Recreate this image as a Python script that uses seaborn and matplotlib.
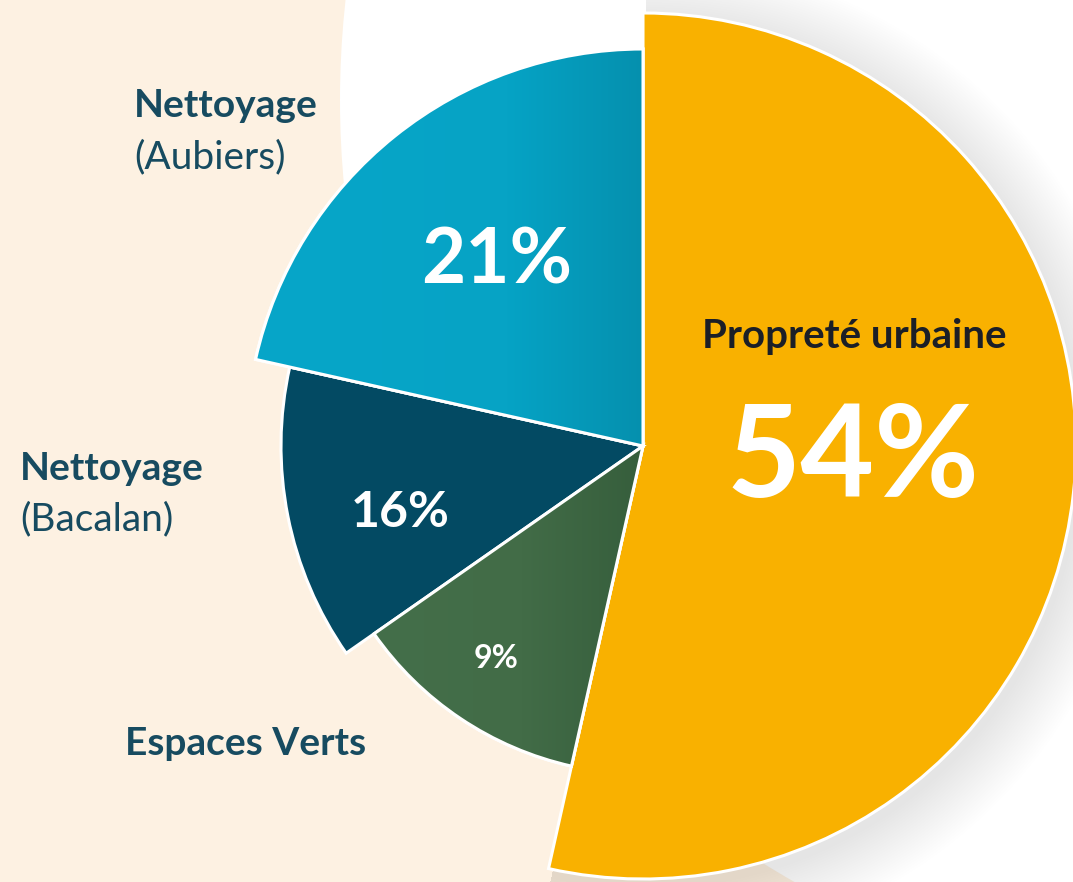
import numpy as np
import matplotlib
matplotlib.use("Agg")
import matplotlib.pyplot as plt
from matplotlib.colors import LinearSegmentedColormap
from matplotlib.patches import Circle
import seaborn as sns

# ---- data ----
categories = ["Propreté urbaine", "Espaces Verts", "Nettoyage (Bacalan)", "Nettoyage (Aubiers)"]
pct_labels = ["54%", "9%", "16%", "21%"]          # printed labels
drawn_shares = [53.5, 11.8, 13.2, 21.5]           # angular shares as drawn

# ---- style ----
radii = [433, 328, 362, 397]
colors = ["#F9B100", "#436C48", "#034A63", "#07A5C8"]
grad_colors = [None,
               [(0, "#446F4A"), (0.55, "#426C47"), (1, "#365E3C")],
               None,
               [(0, "#07A6C9"), (0.65, "#06A3C5"), (1, "#0590AE")]]
label_color = "#174B60"
bg_color = "#FDF1E2"

sns.set_theme(style="white")
plt.rcParams["font.family"] = ["Lato", "DejaVu Sans"]

W, H = 1073, 882
cx, cy = 643, 446
n = len(drawn_shares)
fig = plt.figure(figsize=(W / 100, H / 100), dpi=100, facecolor=bg_color)
ax = fig.add_axes([0, 0, 1, 1])
ax.set_facecolor(bg_color)

# white background disc behind the chart
ax.add_patch(Circle((1240 - cx, cy - 100), 900, facecolor="white", edgecolor="none", zorder=0))

# soft shadow of the main slice
for k in range(26):
    rad = radii[0] + 2 + k * 2.4
    w, _ = ax.pie(drawn_shares, radius=rad, startangle=90, counterclock=False,
                  colors=["#000000"] * n, center=(3, -8),
                  wedgeprops=dict(linewidth=0, alpha=0.0055), frame=True)
    for j, p in enumerate(w):
        p.set_visible(j == 0)
        p.set_zorder(1)

# slices, each drawn with its own radius
for i in range(n):
    wedges, _ = ax.pie(drawn_shares, radius=radii[i], startangle=90, counterclock=False,
                       colors=colors, frame=True,
                       wedgeprops=dict(edgecolor="white", linewidth=2.2))
    for j, wdg in enumerate(wedges):
        wdg.set_visible(j == i)
        wdg.set_zorder(3)
    if grad_colors[i] is not None:
        wdg = wedges[i]
        cmap = LinearSegmentedColormap.from_list("g", grad_colors[i])
        tr_verts = wdg.get_patch_transform().transform(wdg.get_path().vertices)
        x0, x1 = tr_verts[:, 0].min(), tr_verts[:, 0].max()
        grad = np.linspace(0, 1, 256).reshape(1, -1)
        im = ax.imshow(grad, cmap=cmap, aspect="auto", zorder=3.5,
                       extent=(x0, x1, -radii[i] - 5, radii[i] + 5),
                       interpolation="bilinear")
        im.set_clip_path(wdg)
        edge, _ = ax.pie(drawn_shares, radius=radii[i], startangle=90, counterclock=False,
                         colors=[(0, 0, 0, 0)] * n, frame=True,
                         wedgeprops=dict(edgecolor="white", linewidth=2.2))
        for k2, e in enumerate(edge):
            e.set_visible(k2 == i)
            e.set_zorder(4)

ax.set_xlim(-cx, W - cx)
ax.set_ylim(-(H - cy), cy)
ax.set_aspect("equal")
ax.axis("off")

def P(px, py):
    return px - cx, cy - py

# category labels
fs = 28
x, y = P(134, 117)
ax.text(x, y, "Nettoyage", fontsize=fs, fontweight="bold", color=label_color, zorder=6)
x, y = P(134, 168)
ax.text(x, y, "(Aubiers)", fontsize=fs, color=label_color, zorder=6)
x, y = P(20, 480)
ax.text(x, y, "Nettoyage", fontsize=fs, fontweight="bold", color=label_color, zorder=6)
x, y = P(20, 530)
ax.text(x, y, "(Bacalan)", fontsize=fs, color=label_color, zorder=6)
x, y = P(125, 755)
ax.text(x, y, categories[1], fontsize=fs, fontweight="bold", color=label_color, zorder=6)
x, y = P(854, 348)
ax.text(x, y, categories[0], fontsize=29, fontweight="bold", color="#1B1F27", ha="center", zorder=6)

# percentage labels
x, y = P(853, 497)
ax.text(x, y, pct_labels[0], fontsize=92, fontweight="bold", color="white", ha="center", zorder=6)
x, y = P(496, 668)
ax.text(x, y, pct_labels[1], fontsize=23, fontweight="bold", color="white", ha="center", zorder=6)
x, y = P(400, 527)
ax.text(x, y, pct_labels[2], fontsize=36, fontweight="bold", color="white", ha="center", zorder=6)
x, y = P(497, 284)
ax.text(x, y, pct_labels[3], fontsize=55, fontweight="bold", color="white", ha="center", zorder=6)

fig.savefig("out.png", dpi=100, facecolor=bg_color)
